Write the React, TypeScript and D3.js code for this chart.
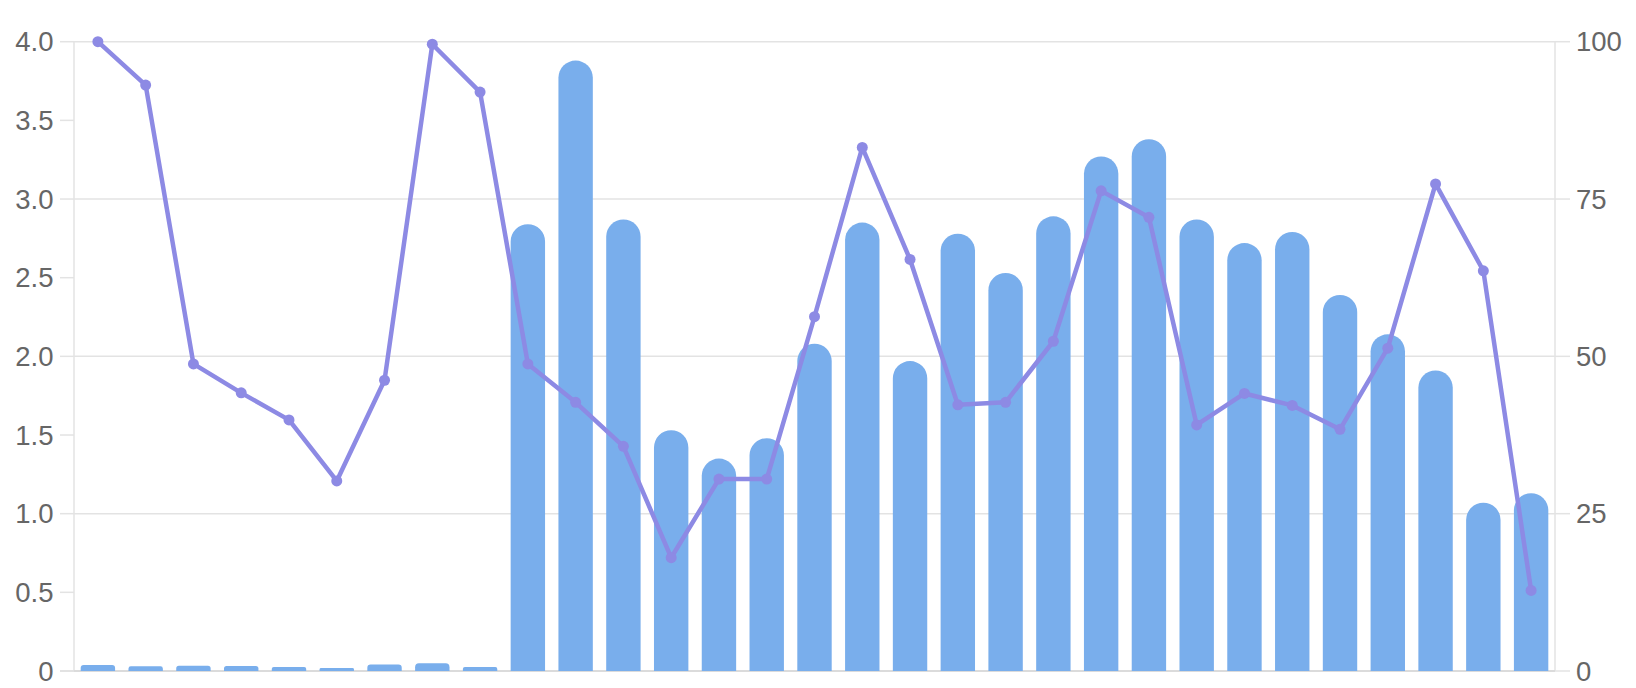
import React from "react";
import * as d3 from "d3";

const categories: string[] = Array.from({ length: 31 }, (_, i) => String(i + 1));
const barValues: number[] = [
  0.038, 0.03, 0.034, 0.032, 0.025, 0.019, 0.042, 0.049, 0.025, 2.84, 3.88,
  2.87, 1.53, 1.35, 1.48, 2.08, 2.85, 1.97, 2.78, 2.53, 2.89, 3.27, 3.38, 2.87,
  2.72, 2.79, 2.39, 2.14, 1.91, 1.07, 1.13,
];
const lineValues: number[] = [
  100, 93.1, 48.8, 44.2, 39.9, 30.2, 46.2, 99.6, 92.0, 48.8, 42.7, 35.7, 18.0,
  30.5, 30.5, 56.3, 83.2, 65.4, 42.3, 42.7, 52.4, 76.3, 72.1, 39.1, 44.1, 42.2,
  38.4, 51.3, 77.4, 63.6, 12.8,
];
const leftTicks: number[] = [0, 0.5, 1, 1.5, 2, 2.5, 3, 3.5, 4];
const rightTicks: number[] = [0, 25, 50, 75, 100];

const W = 1636;
const H = 688;
const X0 = 74;
const X1 = 1555;
const Y0 = 671;
const Y1 = 41.7;

const FONT = "'Liberation Sans', Arial, Helvetica, sans-serif";
const TEXT = "#666666";
const GRID = "#e3e3e3";
const BAR = "#79aeec";
const LINE = "#8d8ae4";

function barPath(x: number, y: number, w: number, h: number): string {
  const r = Math.min(w / 2, h / 2);
  const yb = y + h;
  return `M${x},${yb}V${y + r}A${r},${r} 0 0 1 ${x + r},${y}H${x + w - r}A${r},${r} 0 0 1 ${x + w},${y + r}V${yb}Z`;
}

export default function App() {
  const x = d3.scaleBand<string>().domain(categories).range([X0, X1]).padding(0);
  const yL = d3.scaleLinear().domain([0, 4]).range([Y0, Y1]);
  const yR = d3.scaleLinear().domain([0, 100]).range([Y0, Y1]);
  const bw = x.bandwidth() * 0.72;

  const line = d3
    .line<number>()
    .x((_, i) => (x(categories[i]) as number) + x.bandwidth() / 2)
    .y((d) => yR(d));

  return (
    <svg
      width={W}
      height={H}
      style={{ position: "absolute", left: 0, top: 0, background: "#fff" }}
    >
      {rightTicks.map((t) => (
        <line
          key={"g" + t}
          x1={X0}
          x2={X1}
          y1={yR(t)}
          y2={yR(t)}
          stroke={GRID}
          strokeWidth={1.5}
        />
      ))}
      <line x1={X0} x2={X0} y1={Y1} y2={Y0} stroke={GRID} strokeWidth={1.5} />
      <line x1={X1} x2={X1} y1={Y1} y2={Y0} stroke={GRID} strokeWidth={1.5} />
      <line x1={60} x2={X1} y1={Y0} y2={Y0} stroke="#d6d6d6" strokeWidth={1.5} />

      {leftTicks.map((t) => (
        <g key={"l" + t}>
          <line x1={60} x2={X0} y1={yL(t)} y2={yL(t)} stroke={GRID} strokeWidth={1.5} />
          <text
            x={53.5}
            y={yL(t)}
            textAnchor="end"
            dominantBaseline="central"
            fontFamily={FONT}
            fontSize={27.5}
            fill={TEXT}
          >
            {t === 0 ? "0" : t.toFixed(1)}
          </text>
        </g>
      ))}
      {rightTicks.map((t) => (
        <g key={"r" + t}>
          <line x1={X1} x2={1570} y1={yR(t)} y2={yR(t)} stroke={GRID} strokeWidth={1.5} />
          <text
            x={1576}
            y={yR(t)}
            textAnchor="start"
            dominantBaseline="central"
            fontFamily={FONT}
            fontSize={27.5}
            fill={TEXT}
          >
            {String(t)}
          </text>
        </g>
      ))}

      {barValues.map((v, i) => {
        const cx = (x(categories[i]) as number) + x.bandwidth() / 2;
        const top = yL(v);
        return (
          <path key={"b" + i} d={barPath(cx - bw / 2, top, bw, Y0 - top)} fill={BAR} />
        );
      })}

      <path
        d={line(lineValues) || ""}
        fill="none"
        stroke={LINE}
        strokeWidth={4.5}
        strokeLinejoin="round"
      />
      {lineValues.map((v, i) => (
        <circle
          key={"p" + i}
          cx={(x(categories[i]) as number) + x.bandwidth() / 2}
          cy={yR(v)}
          r={5.5}
          fill={LINE}
        />
      ))}
    </svg>
  );
}
